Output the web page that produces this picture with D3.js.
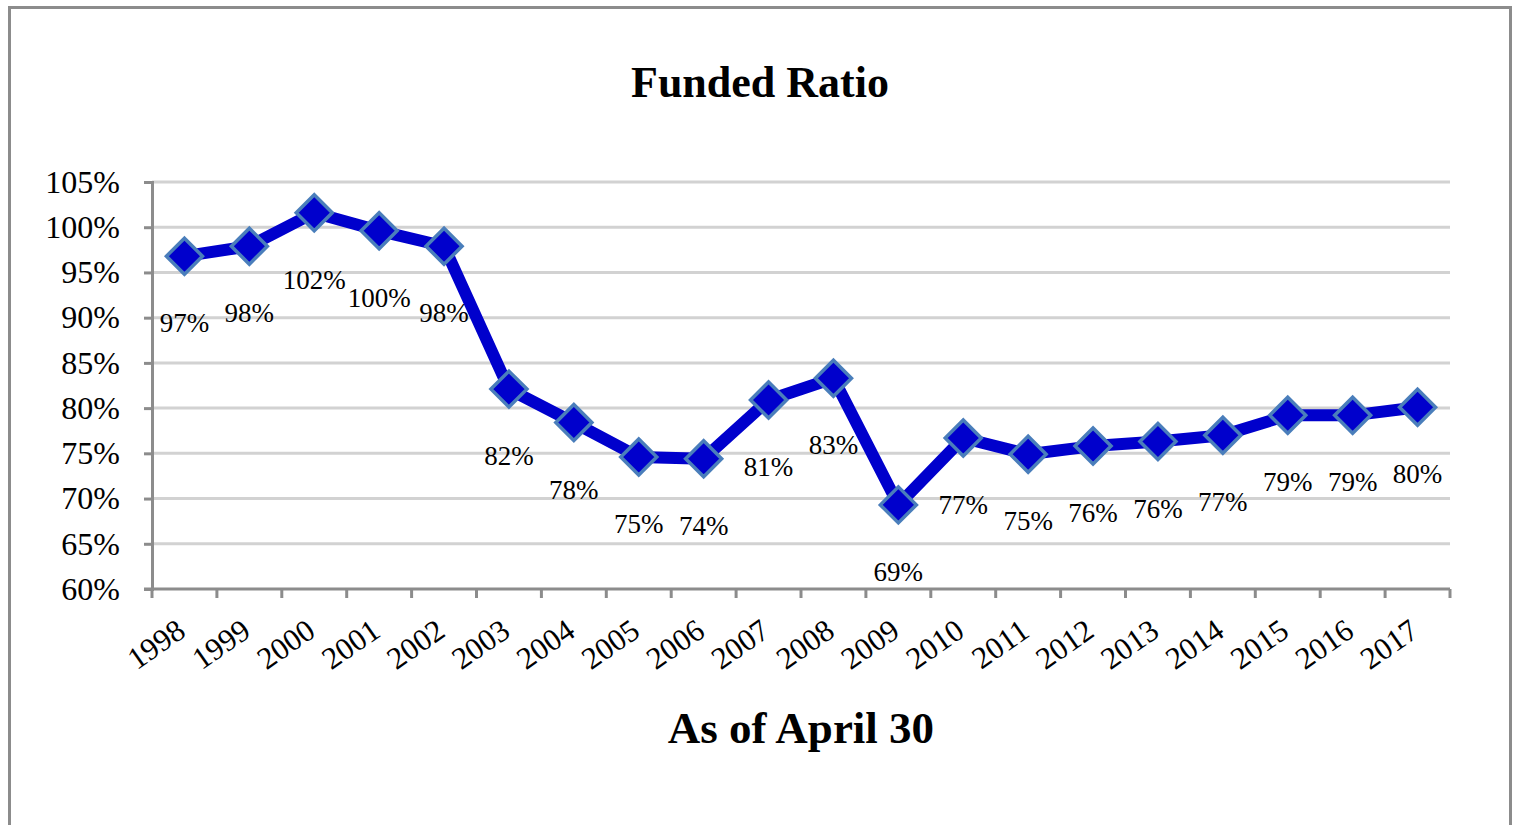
<!DOCTYPE html>
<html>
<head>
<meta charset="utf-8">
<script src="https://cdn.jsdelivr.net/npm/d3@7"></script>
<style>
  body { margin: 0; background: white; }
  svg text { font-family: "Times New Roman", "Liberation Serif", Times, serif; fill: #000; }
</style>
</head>
<body>
<div id="chart"></div>
<script>
// data
const years = ['1998','1999','2000','2001','2002','2003','2004','2005','2006','2007',
               '2008','2009','2010','2011','2012','2013','2014','2015','2016','2017'];
const funded = [96.8, 97.9, 101.6, 99.6, 97.9, 82.1, 78.4, 74.6, 74.4, 80.9,
                83.3, 69.3, 76.7, 74.9, 75.8, 76.3, 77.0, 79.2, 79.2, 80.1];
const yTicks = [60, 65, 70, 75, 80, 85, 90, 95, 100, 105];

const svgWidth = 1514;
const svgHeight = 825;
const serif = '"Times New Roman", "Liberation Serif", Times, serif';

//plot area in page pixels
const plot = { left: 152, right: 1450, top: 182, bottom: 589 };

const svg = d3.select('#chart').append('svg')
  .attr('width', svgWidth)
  .attr('height', svgHeight);

//outer frame (runs off the bottom of the picture)
svg.append('rect')
  .attr('x', 9.5).attr('y', 7.5)
  .attr('width', 1501).attr('height', 900)
  .attr('fill', 'white')
  .attr('stroke', '#8c8c8c')
  .attr('stroke-width', 3);

const x = d3.scaleBand().domain(years).range([plot.left, plot.right]);
const y = d3.scaleLinear().domain([60, 105]).range([plot.bottom, plot.top]);
const cx = d => x(d) + x.bandwidth() / 2;

//gridlines
svg.append('g').selectAll('line')
  .data(yTicks.filter(d => d > 60))
  .join('line')
  .attr('x1', plot.left).attr('x2', plot.right)
  .attr('y1', d => y(d)).attr('y2', d => y(d))
  .attr('stroke', '#d2d2d2')
  .attr('stroke-width', 3);

//y axis
const yAxis = d3.axisLeft(y).tickValues(yTicks).tickFormat(d => d + '%').tickSize(8).tickPadding(24);
const gy = svg.append('g').attr('transform', `translate(${plot.left},0)`).call(yAxis)
  .attr('font-family', serif);
gy.select('.domain').attr('stroke', '#8c8c8c').attr('stroke-width', 3);
gy.selectAll('.tick line').attr('stroke', '#8c8c8c').attr('stroke-width', 3);
gy.selectAll('.tick text')
  .attr('font-size', 32)
  .attr('fill', '#000');

//x axis: ticks sit between categories
const xEdges = years.map(d => x(d)).concat([plot.right]);
const gx = svg.append('g');
gx.append('line')
  .attr('x1', plot.left - 8).attr('x2', plot.right)
  .attr('y1', plot.bottom).attr('y2', plot.bottom)
  .attr('stroke', '#8c8c8c').attr('stroke-width', 3);
gx.selectAll('line.tick')
  .data(xEdges)
  .join('line')
  .attr('class', 'tick')
  .attr('x1', d => d).attr('x2', d => d)
  .attr('y1', plot.bottom).attr('y2', plot.bottom + 9)
  .attr('stroke', '#8c8c8c').attr('stroke-width', 3);
gx.selectAll('text')
  .data(years)
  .join('text')
  .attr('text-anchor', 'end')
  .attr('font-size', 31)
  .attr('transform', d => `translate(${cx(d) + 3},${plot.bottom + 46}) rotate(-35)`)
  .text(d => d);

//the line
const line = d3.line()
  .x((d, i) => cx(years[i]))
  .y(d => y(d));

svg.append('path')
  .datum(funded)
  .attr('d', line)
  .attr('fill', 'none')
  .attr('stroke', '#0000cc')
  .attr('stroke-width', 12)
  .attr('stroke-linejoin', 'round');

//diamond markers
const r = 18;
svg.append('g').selectAll('path')
  .data(funded)
  .join('path')
  .attr('transform', (d, i) => `translate(${cx(years[i])},${y(d)})`)
  .attr('d', `M0,${-r}L${r},0L0,${r}L${-r},0Z`)
  .attr('fill', '#0000cc')
  .attr('stroke', '#4a7ebb')
  .attr('stroke-width', 3.5);

//data labels below each point
svg.append('g').selectAll('text')
  .data(funded)
  .join('text')
  .attr('x', (d, i) => cx(years[i]))
  .attr('y', d => y(d) + 76)
  .attr('text-anchor', 'middle')
  .attr('font-size', 27)
  .text(d => Math.round(d) + '%');

//titles
svg.append('text')
  .attr('x', 760).attr('y', 97)
  .attr('text-anchor', 'middle')
  .attr('font-size', 44)
  .attr('font-weight', 'bold')
  .text('Funded Ratio');

svg.append('text')
  .attr('x', 801).attr('y', 743)
  .attr('text-anchor', 'middle')
  .attr('font-size', 45)
  .attr('font-weight', 'bold')
  .text('As of April 30');
</script>
</body>
</html>
